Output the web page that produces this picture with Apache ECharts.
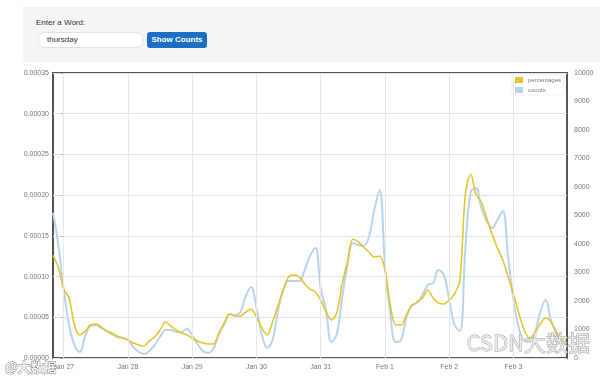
<!DOCTYPE html>
<html>
<head>
<meta charset="utf-8">
<script src="https://cdn.jsdelivr.net/npm/echarts@6/dist/echarts.min.js"></script>
<style>
html,body{margin:0;padding:0;width:600px;height:379px;overflow:hidden;background:#fff;font-family:"Liberation Sans",Arial,sans-serif;}
#chart{position:absolute;left:0;top:0;width:600px;height:379px;z-index:1;}
#panel{position:absolute;left:23px;top:7px;width:577px;height:55px;background:#f5f5f5;z-index:2;}
#lbl{position:absolute;left:36px;top:18px;font-size:8px;color:#333;z-index:3;}
#inp{position:absolute;left:38px;top:32px;width:105px;height:16px;background:#fff;border:1px solid #e2e2e2;border-radius:7px;box-sizing:border-box;font-size:8px;line-height:14px;padding-left:8px;color:#333;z-index:3;}
#btn{position:absolute;left:147px;top:32px;width:60px;height:16px;background:#1b6ec2;border-radius:3px;color:#fff;font-size:8px;font-weight:bold;line-height:16px;text-align:center;z-index:3;}
</style>
</head>
<body>
<div id="chart"></div>
<div id="panel"></div>
<div id="lbl">Enter a Word:</div>
<div id="inp">thursday</div>
<div id="btn">Show Counts</div>
<script>
// hours offset from Jan 27 00:00
const hours = [-4,-2,0,2,4,6,8,10,12,14,16,18,20,22,24,26,28,30,32,34,36,38,40,42,44,46,48,50,52,54,56,58,60,62,64,66,68,70,72,74,76,78,80,82,84,86,88,90,92,94,96,98,100,102,104,106,108,110,112,114,116,118,120,122,124,126,128,130,132,134,136,138,140,142,144,146,148,150,152,154,156,158,160,162,164,166,168,170,172,174,176,178,180,182,184,186,188];

const percentages = [0.000126,0.000111,0.0000847,0.0000737,0.0000405,0.0000282,0.0000332,0.0000405,0.0000418,0.0000381,
0.0000332,0.0000307,0.0000270,0.0000246,0.0000221,0.0000184,0.0000160,0.0000147,0.0000209,0.0000258,
0.0000344,0.0000442,0.0000393,0.0000344,0.0000307,0.0000282,0.0000246,0.0000209,0.0000184,0.0000172,
0.0000172,0.0000307,0.0000430,0.0000540,0.0000516,0.0000516,0.0000565,0.0000602,0.0000504,0.0000368,
0.0000282,0.0000442,0.0000639,0.0000835,0.0000995,0.0001019,0.0000995,0.0000909,0.0000847,0.0000811,
0.0000712,0.0000565,0.0000467,0.0000553,0.0000909,0.0001179,0.0001461,0.0001425,0.0001363,0.0001302,
0.0001240,0.0001253,0.0001081,0.0000651,0.0000405,0.0000405,0.0000528,0.0000639,0.0000688,0.0000737,
0.0000835,0.0000737,0.0000675,0.0000663,0.0000712,0.0000786,0.0000958,0.0002002,0.0002260,0.0002014,
0.0001916,0.0001719,0.0001523,0.0001351,0.0001204,0.0000995,0.0000786,0.0000553,0.0000344,0.0000246,
0.0000307,0.0000418,0.0000491,0.0000442,0.0000307,0.0000221,0.0000184];

const counts = [5090,3970,2386,1158,456,210,772,1123,1158,1053,
947,842,737,702,632,386,210,140,246,456,
737,982,982,912,912,1018,807,491,246,175,
351,842,1193,1544,1509,1614,2175,2491,1754,842,
351,632,1614,2386,2702,2702,2702,3088,3579,3860,
2456,1684,561,842,2105,3263,4035,3965,3930,4246,
5193,5895,3263,1544,561,632,1404,1860,1930,2211,
2561,2632,3088,2912,2035,1158,947,3790,5825,5965,
5263,4807,4561,4842,5158,3544,2035,1053,596,561,
877,1614,2035,1333,912,632,386];

const dayTicks = [0,24,48,72,96,120,144,168];
const dayLabels = ['Jan 27','Jan 28','Jan 29','Jan 30','Jan 31','Feb 1','Feb 2','Feb 3'];

const chart = echarts.init(document.getElementById('chart'), null, {renderer:'canvas'});
const font = '"Liberation Sans", Arial, sans-serif';
chart.setOption({
  animation:false,
  textStyle:{fontFamily:font},
  grid:{left:53,right:33,top:73,bottom:21,show:true,borderColor:'#555',borderWidth:2,backgroundColor:'transparent'},
  legend:{
    data:['percentages','counts'], orient:'vertical', right:36, top:75,
    itemWidth:8, itemHeight:6, itemGap:4, icon:'rect',
    textStyle:{fontSize:6,color:'#777',fontFamily:font},
    padding:[2,3], borderColor:'#e0e0e0', borderWidth:0.5, align:'left'
  },
  xAxis:{
    type:'value', min:-4, max:188,
    axisLine:{show:false},
    axisTick:{show:false, customValues:dayTicks},
    axisLabel:{customValues:dayTicks, fontSize:7, color:'#777', margin:6,
      formatter:(v)=>{const i=dayTicks.indexOf(v); return i>=0?dayLabels[i]:'';}},
    splitLine:{show:false}
  },
  yAxis:[
    {type:'value', min:0, max:0.00035, interval:0.00005, position:'left',
     axisLine:{show:false}, axisTick:{show:true,length:3,lineStyle:{color:'#aaa'}},
     axisLabel:{fontSize:7,color:'#777',margin:4,formatter:(v)=>v.toFixed(5)},
     splitLine:{show:true,lineStyle:{color:'#e4e4e4',width:1}}},
    {type:'value', min:0, max:10000, interval:1000, position:'right',
     axisLine:{show:false}, axisTick:{show:false},
     axisLabel:{fontSize:7,color:'#777',margin:7,formatter:(v)=>String(v)},
     splitLine:{show:false}}
  ],
  graphic:[
    {type:'text', left:466, top:331, z:100, silent:true,
     style:{text:'CSDN大数据', font:'22px "Noto Sans CJK SC", sans-serif', fill:'rgba(235,235,235,0.85)', stroke:'#9c9c9c', lineWidth:0.8}},
    {type:'text', left:4, top:360, z:100, silent:true,
     style:{text:'@大数据', font:'bold 13px "Noto Sans CJK SC", sans-serif', fill:'#f4f4f4', stroke:'#777', lineWidth:0.8}}
  ],
  series:[
    {name:'counts', type:'line', yAxisIndex:1, z:2,
     data:hours.map((h,i)=>[h,counts[i]]), showSymbol:false, smooth:0.4,
     lineStyle:{color:'#b9d4ea',width:2}, itemStyle:{color:'#b9d4ea'},
     markLine:{silent:true, symbol:['none','none'], label:{show:false}, animation:false,
       lineStyle:{color:'#e8e8e8',width:1,type:'solid'},
       data:dayTicks.map(v=>({xAxis:v}))}},
    {name:'percentages', type:'line', yAxisIndex:0, z:3,
     data:hours.map((h,i)=>[h,percentages[i]]), showSymbol:false, smooth:0.3,
     lineStyle:{color:'#e2c532',width:1.6}, itemStyle:{color:'#e2c532'}}
  ]
});
</script>
</body>
</html>
